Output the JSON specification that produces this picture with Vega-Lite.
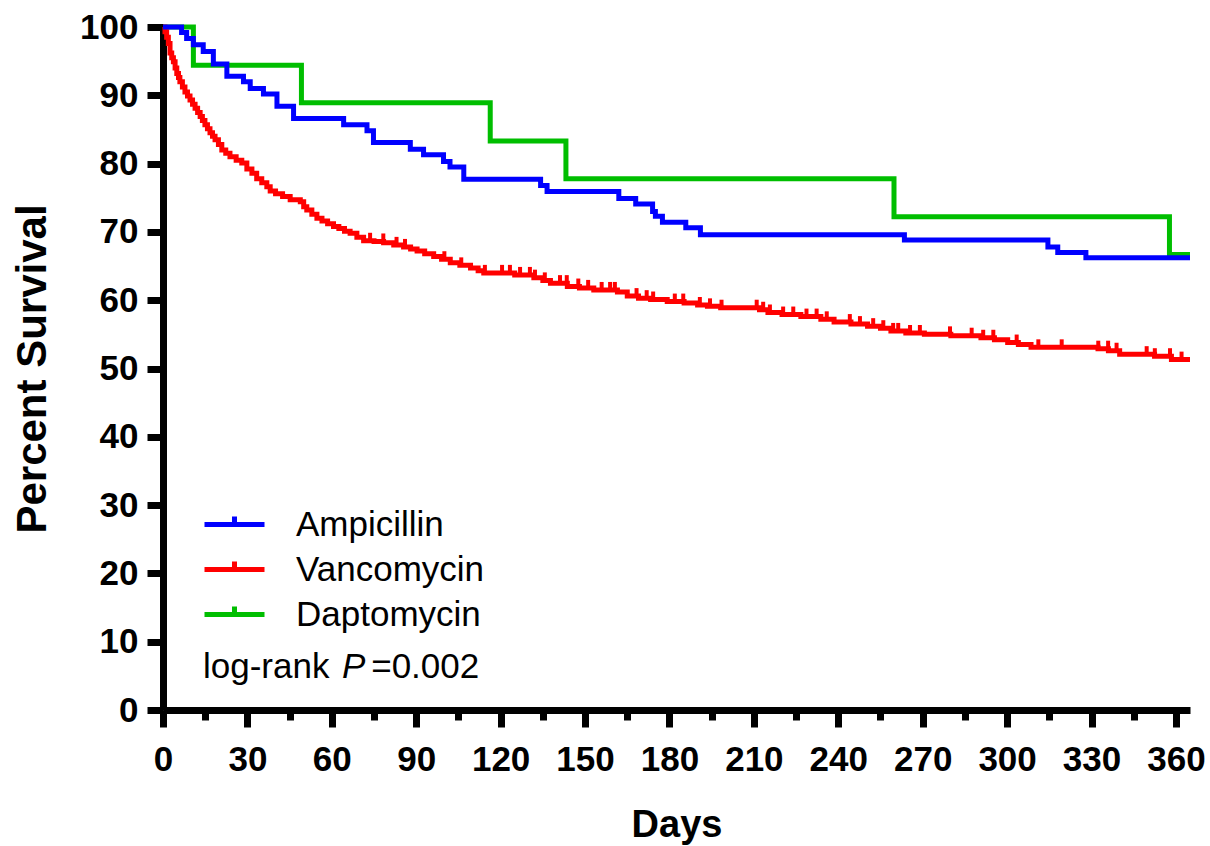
{
  "$schema": "https://vega.github.io/schema/vega-lite/v6.json",
  "width": 1027,
  "height": 683,
  "autosize": {"type": "none"},
  "padding": {"left": 163, "top": 27, "right": 20, "bottom": 136},
  "background": "white",
  "config": {"view": {"stroke": null}, "font": "Liberation Sans"},
  "datasets": {
    "surv": [
      {"g": "Daptomycin", "day": 0, "pct": 100},
      {"g": "Daptomycin", "day": 10.8, "pct": 94.4},
      {"g": "Daptomycin", "day": 49.2, "pct": 88.9},
      {"g": "Daptomycin", "day": 116.3, "pct": 83.3},
      {"g": "Daptomycin", "day": 143.2, "pct": 77.8},
      {"g": "Daptomycin", "day": 259.8, "pct": 72.2},
      {"g": "Daptomycin", "day": 357.7, "pct": 66.7},
      {"g": "Daptomycin", "day": 365, "pct": 66.7},
      {"g": "Vancomycin", "day": 0, "pct": 100},
      {"g": "Vancomycin", "day": 0.7, "pct": 99.3},
      {"g": "Vancomycin", "day": 1.3, "pct": 98.5},
      {"g": "Vancomycin", "day": 1.9, "pct": 97.6},
      {"g": "Vancomycin", "day": 2.5, "pct": 96.2},
      {"g": "Vancomycin", "day": 3.1, "pct": 95.5},
      {"g": "Vancomycin", "day": 3.7, "pct": 94.9},
      {"g": "Vancomycin", "day": 4.3, "pct": 94.0},
      {"g": "Vancomycin", "day": 4.9, "pct": 93.2},
      {"g": "Vancomycin", "day": 5.5, "pct": 92.6},
      {"g": "Vancomycin", "day": 6.0, "pct": 92.0},
      {"g": "Vancomycin", "day": 6.9, "pct": 91.2},
      {"g": "Vancomycin", "day": 7.8, "pct": 90.5},
      {"g": "Vancomycin", "day": 8.7, "pct": 89.9},
      {"g": "Vancomycin", "day": 9.6, "pct": 89.3},
      {"g": "Vancomycin", "day": 10.5, "pct": 88.7},
      {"g": "Vancomycin", "day": 11.4, "pct": 88.1},
      {"g": "Vancomycin", "day": 12.3, "pct": 87.5},
      {"g": "Vancomycin", "day": 13.2, "pct": 86.9},
      {"g": "Vancomycin", "day": 14.0, "pct": 86.3},
      {"g": "Vancomycin", "day": 14.9, "pct": 85.7},
      {"g": "Vancomycin", "day": 15.8, "pct": 85.1},
      {"g": "Vancomycin", "day": 16.7, "pct": 84.5},
      {"g": "Vancomycin", "day": 17.6, "pct": 84.0},
      {"g": "Vancomycin", "day": 18.5, "pct": 83.5},
      {"g": "Vancomycin", "day": 19.7, "pct": 82.8},
      {"g": "Vancomycin", "day": 20.9, "pct": 82.0},
      {"g": "Vancomycin", "day": 22.3, "pct": 81.5},
      {"g": "Vancomycin", "day": 23.8, "pct": 81.0},
      {"g": "Vancomycin", "day": 26.0, "pct": 80.5},
      {"g": "Vancomycin", "day": 28.0, "pct": 80.1},
      {"g": "Vancomycin", "day": 29.8, "pct": 79.2},
      {"g": "Vancomycin", "day": 31.6, "pct": 78.6},
      {"g": "Vancomycin", "day": 33.3, "pct": 77.8},
      {"g": "Vancomycin", "day": 35.1, "pct": 77.2},
      {"g": "Vancomycin", "day": 36.9, "pct": 76.6},
      {"g": "Vancomycin", "day": 38.1, "pct": 76.0},
      {"g": "Vancomycin", "day": 40.0, "pct": 75.6},
      {"g": "Vancomycin", "day": 42.5, "pct": 75.2},
      {"g": "Vancomycin", "day": 45.2, "pct": 74.7},
      {"g": "Vancomycin", "day": 48.8, "pct": 74.4},
      {"g": "Vancomycin", "day": 50.0, "pct": 73.7},
      {"g": "Vancomycin", "day": 51.1, "pct": 73.2},
      {"g": "Vancomycin", "day": 52.9, "pct": 72.6},
      {"g": "Vancomycin", "day": 54.7, "pct": 72.0},
      {"g": "Vancomycin", "day": 56.5, "pct": 71.6},
      {"g": "Vancomycin", "day": 58.5, "pct": 71.2},
      {"g": "Vancomycin", "day": 60.6, "pct": 70.8},
      {"g": "Vancomycin", "day": 62.5, "pct": 70.5},
      {"g": "Vancomycin", "day": 64.5, "pct": 70.1},
      {"g": "Vancomycin", "day": 66.5, "pct": 69.8},
      {"g": "Vancomycin", "day": 68.9, "pct": 69.2},
      {"g": "Vancomycin", "day": 71.3, "pct": 68.7},
      {"g": "Vancomycin", "day": 75.0, "pct": 68.6},
      {"g": "Vancomycin", "day": 78.4, "pct": 68.4},
      {"g": "Vancomycin", "day": 82.0, "pct": 68.1},
      {"g": "Vancomycin", "day": 85.5, "pct": 67.8},
      {"g": "Vancomycin", "day": 88.0, "pct": 67.5},
      {"g": "Vancomycin", "day": 90.3, "pct": 67.2},
      {"g": "Vancomycin", "day": 93.0, "pct": 66.8},
      {"g": "Vancomycin", "day": 96.2, "pct": 66.4},
      {"g": "Vancomycin", "day": 99.0, "pct": 66.0},
      {"g": "Vancomycin", "day": 102.1, "pct": 65.5},
      {"g": "Vancomycin", "day": 105.5, "pct": 65.1},
      {"g": "Vancomycin", "day": 109.3, "pct": 64.7},
      {"g": "Vancomycin", "day": 112.0, "pct": 64.3},
      {"g": "Vancomycin", "day": 114.0, "pct": 64.0},
      {"g": "Vancomycin", "day": 125.0, "pct": 63.7},
      {"g": "Vancomycin", "day": 131.8, "pct": 63.3},
      {"g": "Vancomycin", "day": 135.0, "pct": 62.9},
      {"g": "Vancomycin", "day": 137.7, "pct": 62.5},
      {"g": "Vancomycin", "day": 143.7, "pct": 62.0},
      {"g": "Vancomycin", "day": 148.0, "pct": 61.8},
      {"g": "Vancomycin", "day": 153.1, "pct": 61.5},
      {"g": "Vancomycin", "day": 161.5, "pct": 61.2},
      {"g": "Vancomycin", "day": 165.0, "pct": 60.6},
      {"g": "Vancomycin", "day": 169.0, "pct": 60.3},
      {"g": "Vancomycin", "day": 173.3, "pct": 60.1},
      {"g": "Vancomycin", "day": 179.2, "pct": 59.8},
      {"g": "Vancomycin", "day": 185.2, "pct": 59.6},
      {"g": "Vancomycin", "day": 190.0, "pct": 59.3},
      {"g": "Vancomycin", "day": 193.5, "pct": 59.1},
      {"g": "Vancomycin", "day": 198.2, "pct": 58.9},
      {"g": "Vancomycin", "day": 212.0, "pct": 58.6},
      {"g": "Vancomycin", "day": 215.0, "pct": 58.2},
      {"g": "Vancomycin", "day": 220.0, "pct": 57.9},
      {"g": "Vancomycin", "day": 226.7, "pct": 57.6},
      {"g": "Vancomycin", "day": 233.8, "pct": 57.2},
      {"g": "Vancomycin", "day": 238.5, "pct": 56.8},
      {"g": "Vancomycin", "day": 244.5, "pct": 56.5},
      {"g": "Vancomycin", "day": 250.4, "pct": 56.2},
      {"g": "Vancomycin", "day": 255.0, "pct": 55.9},
      {"g": "Vancomycin", "day": 258.7, "pct": 55.5},
      {"g": "Vancomycin", "day": 264.0, "pct": 55.2},
      {"g": "Vancomycin", "day": 270.6, "pct": 55.0},
      {"g": "Vancomycin", "day": 280.0, "pct": 54.8},
      {"g": "Vancomycin", "day": 290.7, "pct": 54.5},
      {"g": "Vancomycin", "day": 295.5, "pct": 54.2},
      {"g": "Vancomycin", "day": 300.2, "pct": 53.8},
      {"g": "Vancomycin", "day": 304.0, "pct": 53.5},
      {"g": "Vancomycin", "day": 308.5, "pct": 53.1},
      {"g": "Vancomycin", "day": 332.3, "pct": 52.9},
      {"g": "Vancomycin", "day": 336.0, "pct": 52.6},
      {"g": "Vancomycin", "day": 340.0, "pct": 52.1},
      {"g": "Vancomycin", "day": 352.4, "pct": 51.8},
      {"g": "Vancomycin", "day": 358.4, "pct": 51.3},
      {"g": "Vancomycin", "day": 365, "pct": 51.3},
      {"g": "Ampicillin", "day": 0, "pct": 100},
      {"g": "Ampicillin", "day": 6.6, "pct": 99.2},
      {"g": "Ampicillin", "day": 8.4, "pct": 98.3},
      {"g": "Ampicillin", "day": 10.8, "pct": 97.4},
      {"g": "Ampicillin", "day": 14.3, "pct": 96.4},
      {"g": "Ampicillin", "day": 17.9, "pct": 94.6},
      {"g": "Ampicillin", "day": 22.7, "pct": 92.8},
      {"g": "Ampicillin", "day": 28.6, "pct": 92.0},
      {"g": "Ampicillin", "day": 31.0, "pct": 91.0},
      {"g": "Ampicillin", "day": 35.7, "pct": 90.2},
      {"g": "Ampicillin", "day": 40.5, "pct": 88.4},
      {"g": "Ampicillin", "day": 46.4, "pct": 86.6},
      {"g": "Ampicillin", "day": 64.2, "pct": 85.7},
      {"g": "Ampicillin", "day": 72.5, "pct": 84.8},
      {"g": "Ampicillin", "day": 74.8, "pct": 83.1},
      {"g": "Ampicillin", "day": 87.9, "pct": 82.1},
      {"g": "Ampicillin", "day": 92.6, "pct": 81.3},
      {"g": "Ampicillin", "day": 99.7, "pct": 80.3},
      {"g": "Ampicillin", "day": 102.0, "pct": 79.5},
      {"g": "Ampicillin", "day": 106.9, "pct": 77.7},
      {"g": "Ampicillin", "day": 134.2, "pct": 76.8},
      {"g": "Ampicillin", "day": 136.5, "pct": 75.9},
      {"g": "Ampicillin", "day": 162.0, "pct": 74.9},
      {"g": "Ampicillin", "day": 168.0, "pct": 74.1},
      {"g": "Ampicillin", "day": 174.0, "pct": 73.0},
      {"g": "Ampicillin", "day": 175.0, "pct": 72.3},
      {"g": "Ampicillin", "day": 177.5, "pct": 71.4},
      {"g": "Ampicillin", "day": 185.8, "pct": 70.6},
      {"g": "Ampicillin", "day": 191.0, "pct": 69.6},
      {"g": "Ampicillin", "day": 263.5, "pct": 68.8},
      {"g": "Ampicillin", "day": 314.5, "pct": 67.8},
      {"g": "Ampicillin", "day": 318.0, "pct": 67.0},
      {"g": "Ampicillin", "day": 328.0, "pct": 66.2},
      {"g": "Ampicillin", "day": 365, "pct": 66.2}
    ],
    "censor": [
      {"g": "Vancomycin", "day": 73.6, "pct": 68.7},
      {"g": "Vancomycin", "day": 78.3, "pct": 68.6},
      {"g": "Vancomycin", "day": 83.0, "pct": 68.1},
      {"g": "Vancomycin", "day": 86.0, "pct": 67.8},
      {"g": "Vancomycin", "day": 100.0, "pct": 66.0},
      {"g": "Vancomycin", "day": 106.0, "pct": 65.1},
      {"g": "Vancomycin", "day": 114.4, "pct": 64.0},
      {"g": "Vancomycin", "day": 120.5, "pct": 64.0},
      {"g": "Vancomycin", "day": 123.3, "pct": 64.0},
      {"g": "Vancomycin", "day": 126.9, "pct": 63.7},
      {"g": "Vancomycin", "day": 130.4, "pct": 63.7},
      {"g": "Vancomycin", "day": 132.2, "pct": 63.3},
      {"g": "Vancomycin", "day": 135.7, "pct": 62.9},
      {"g": "Vancomycin", "day": 141.1, "pct": 62.5},
      {"g": "Vancomycin", "day": 143.5, "pct": 62.5},
      {"g": "Vancomycin", "day": 147.6, "pct": 62.0},
      {"g": "Vancomycin", "day": 151.1, "pct": 61.8},
      {"g": "Vancomycin", "day": 155.9, "pct": 61.5},
      {"g": "Vancomycin", "day": 158.9, "pct": 61.5},
      {"g": "Vancomycin", "day": 160.6, "pct": 61.5},
      {"g": "Vancomycin", "day": 168.3, "pct": 60.6},
      {"g": "Vancomycin", "day": 171.9, "pct": 60.3},
      {"g": "Vancomycin", "day": 174.2, "pct": 60.1},
      {"g": "Vancomycin", "day": 181.9, "pct": 59.8},
      {"g": "Vancomycin", "day": 184.9, "pct": 59.8},
      {"g": "Vancomycin", "day": 190.8, "pct": 59.3},
      {"g": "Vancomycin", "day": 194.4, "pct": 59.1},
      {"g": "Vancomycin", "day": 198.5, "pct": 58.9},
      {"g": "Vancomycin", "day": 211.0, "pct": 58.9},
      {"g": "Vancomycin", "day": 213.3, "pct": 58.6},
      {"g": "Vancomycin", "day": 215.7, "pct": 58.2},
      {"g": "Vancomycin", "day": 220.4, "pct": 57.9},
      {"g": "Vancomycin", "day": 224.0, "pct": 57.9},
      {"g": "Vancomycin", "day": 228.7, "pct": 57.6},
      {"g": "Vancomycin", "day": 232.3, "pct": 57.6},
      {"g": "Vancomycin", "day": 235.9, "pct": 57.2},
      {"g": "Vancomycin", "day": 244.1, "pct": 56.8},
      {"g": "Vancomycin", "day": 247.7, "pct": 56.5},
      {"g": "Vancomycin", "day": 252.4, "pct": 56.2},
      {"g": "Vancomycin", "day": 256.0, "pct": 55.9},
      {"g": "Vancomycin", "day": 259.5, "pct": 55.5},
      {"g": "Vancomycin", "day": 261.3, "pct": 55.5},
      {"g": "Vancomycin", "day": 265.5, "pct": 55.2},
      {"g": "Vancomycin", "day": 269.0, "pct": 55.2},
      {"g": "Vancomycin", "day": 279.7, "pct": 55.0},
      {"g": "Vancomycin", "day": 287.4, "pct": 54.8},
      {"g": "Vancomycin", "day": 291.5, "pct": 54.5},
      {"g": "Vancomycin", "day": 295.1, "pct": 54.5},
      {"g": "Vancomycin", "day": 303.4, "pct": 53.8},
      {"g": "Vancomycin", "day": 311.1, "pct": 53.1},
      {"g": "Vancomycin", "day": 319.4, "pct": 53.1},
      {"g": "Vancomycin", "day": 332.4, "pct": 52.9},
      {"g": "Vancomycin", "day": 335.9, "pct": 52.9},
      {"g": "Vancomycin", "day": 338.9, "pct": 52.6},
      {"g": "Vancomycin", "day": 349.6, "pct": 52.1},
      {"g": "Vancomycin", "day": 352.5, "pct": 51.8},
      {"g": "Vancomycin", "day": 357.9, "pct": 51.8},
      {"g": "Vancomycin", "day": 362.0, "pct": 51.3}
    ],
    "annot": [
      {"txt": "log-rank", "day": 14.2, "pct": 6.3, "italic": false},
      {"txt": "P", "day": 63.6, "pct": 6.3, "italic": true},
      {"txt": "=0.002", "day": 74.0, "pct": 6.3, "italic": false}
    ]
  },
  "layer": [
    {
      "data": {"name": "surv"},
      "mark": {"type": "line", "interpolate": "step-after", "strokeWidth": 5, "strokeCap": "butt", "strokeJoin": "miter"},
      "encoding": {
        "x": {
          "field": "day", "type": "quantitative",
          "scale": {"domain": [0, 365], "nice": false, "zero": true},
          "axis": {
            "values": [0, 15, 30, 45, 60, 75, 90, 105, 120, 135, 150, 165, 180, 195, 210, 225, 240, 255, 270, 285, 300, 315, 330, 345, 360],
            "labelExpr": "datum.value % 30 === 0 ? datum.label : ''",
            "tickSize": {"condition": {"test": "datum.value % 30 === 0", "value": 17}, "value": 10},
            "tickWidth": 7, "tickColor": "black",
            "domainColor": "black", "domainWidth": 7,
            "grid": false, "labelFlush": false, "labelOverlap": false,
            "labelFont": "Liberation Sans", "labelFontWeight": "bold", "labelFontSize": 35, "labelColor": "black", "labelPadding": 15,
            "title": "Days", "titleFont": "Liberation Sans", "titleFontWeight": "bold", "titleFontSize": 38, "titleColor": "black", "titlePadding": 29
          }
        },
        "y": {
          "field": "pct", "type": "quantitative",
          "scale": {"domain": [0, 100], "nice": false},
          "axis": {
            "values": [0, 5, 10, 15, 20, 25, 30, 35, 40, 45, 50, 55, 60, 65, 70, 75, 80, 85, 90, 95, 100],
            "labelExpr": "datum.value % 10 === 0 ? datum.label : ''",
            "tickSize": {"condition": {"test": "datum.value % 10 === 0", "value": 16}, "value": 10},
            "tickWidth": 7, "tickColor": "black",
            "domainColor": "black", "domainWidth": 7,
            "grid": false, "labelOverlap": false,
            "labelFont": "Liberation Sans", "labelFontWeight": "bold", "labelFontSize": 35, "labelColor": "black", "labelPadding": 9,
            "title": "Percent Survival", "titleFont": "Liberation Sans", "titleFontWeight": "bold", "titleFontSize": 42, "titleColor": "black", "titlePadding": 25
          }
        },
        "color": {
          "field": "g", "type": "nominal",
          "scale": {"domain": ["Ampicillin", "Vancomycin", "Daptomycin"], "range": ["#0000FF", "#FF0000", "#00BE00"]},
          "legend": {
            "orient": "none", "legendX": 39, "legendY": 475, "title": null,
            "symbolType": "M-1,0H1M0,0V-0.27",
            "symbolSize": 3600, "symbolStrokeWidth": 5,
            "labelFont": "Liberation Sans", "labelFontSize": 35, "labelColor": "black", "labelOffset": 29,
            "clipHeight": 45, "rowPadding": 0, "padding": 0, "labelLimit": 400
          }
        }
      }
    },
    {
      "data": {"name": "censor"},
      "mark": {"type": "tick", "orient": "vertical", "size": 8, "thickness": 4, "yOffset": -4, "opacity": 1},
      "encoding": {
        "x": {"field": "day", "type": "quantitative"},
        "y": {"field": "pct", "type": "quantitative"},
        "color": {"field": "g", "type": "nominal", "legend": null}
      }
    },
    {
      "data": {"name": "annot"},
      "transform": [{"filter": "!datum.italic"}],
      "mark": {"type": "text", "align": "left", "baseline": "middle", "font": "Liberation Sans", "fontSize": 35, "color": "black"},
      "encoding": {
        "x": {"field": "day", "type": "quantitative"},
        "y": {"field": "pct", "type": "quantitative"},
        "text": {"field": "txt"}
      }
    },
    {
      "data": {"name": "annot"},
      "transform": [{"filter": "datum.italic"}],
      "mark": {"type": "text", "align": "left", "baseline": "middle", "font": "Liberation Sans", "fontSize": 35, "fontStyle": "italic", "color": "black"},
      "encoding": {
        "x": {"field": "day", "type": "quantitative"},
        "y": {"field": "pct", "type": "quantitative"},
        "text": {"field": "txt"}
      }
    }
  ]
}
